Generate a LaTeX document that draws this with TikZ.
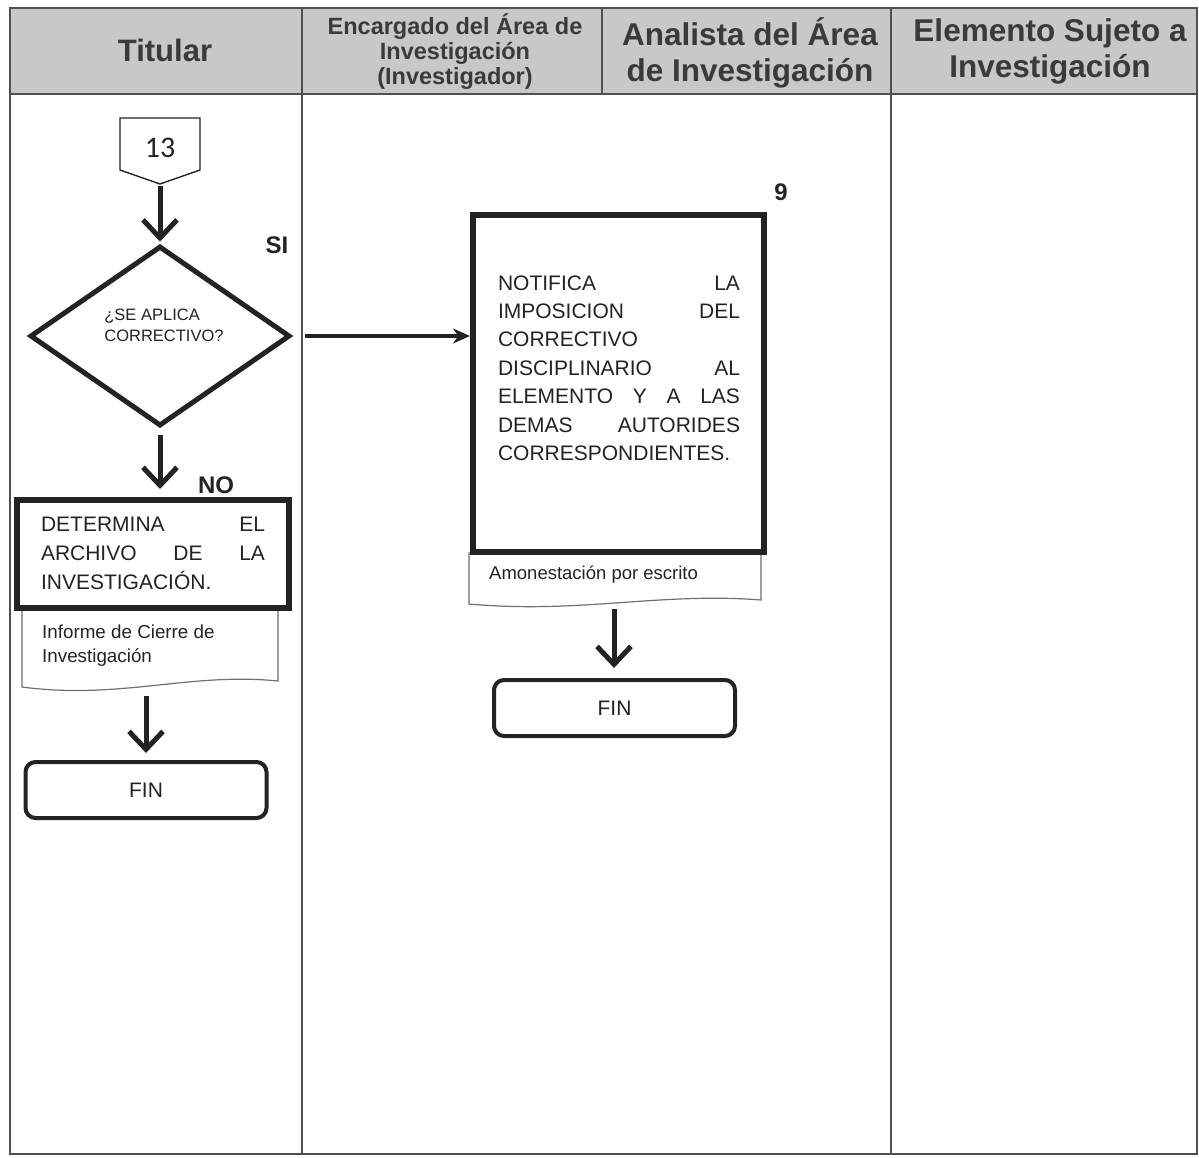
\documentclass[tikz,border=0pt]{standalone}
\usepackage{fontspec}
\setmainfont{Liberation Sans}
\newfontfamily\calib{Carlito}
\usetikzlibrary{arrows.meta,shapes.geometric}
\definecolor{hdr}{RGB}{200,200,200}
\definecolor{ink}{RGB}{35,35,35}
\definecolor{hdrtext}{RGB}{58,58,58}
\definecolor{gridc}{RGB}{80,80,80}
\begin{document}
\begin{tikzpicture}[x=1pt,y=-1pt,
  grid/.style={draw=gridc, line width=1.6pt},
  hdrtxt/.style={text=hdrtext, align=center, inner sep=0},
  procbox/.style={draw=ink, line width=6pt, fill=white, inner sep=0},
  doc/.style={draw=ink!65, line width=1.2pt, fill=white},
  term/.style={draw=ink, line width=4pt, rounded corners=10pt, inner sep=0,
    minimum width=241pt, minimum height=56pt, text=ink, font=\fontsize{21}{25}\selectfont},
  flow/.style={draw=ink, line width=5pt, -{Straight Barb[length=18pt,width=34pt]}},
  siarrow/.style={draw=ink, line width=3.5pt, -{Stealth[length=17pt,width=15pt]}},
  bodytxt/.style={text=ink, inner sep=0},
  lbl/.style={text=ink, inner sep=0, font=\bfseries\fontsize{24}{28}\selectfont}
]
\useasboundingbox (0,0) rectangle (1199,1157);
\fill[white] (0,0) rectangle (1199,1157);

% swimlane table
\fill[hdr] (10,8) rectangle (1197,94);
\draw[grid] (10,8) rectangle (1197,1154);
\draw[draw=gridc, line width=2.6pt] (10,94) -- (1197,94);
\draw[grid] (302,8) -- (302,1154);
\draw[grid] (602,8) -- (602,94);
\draw[grid] (891,8) -- (891,1154);

% header texts
\node[hdrtxt, font=\bfseries\fontsize{31}{36}\selectfont] (h1) at (165,50) {Titular};
\node[hdrtxt, font=\bfseries\fontsize{23.5}{25}\selectfont] (h2) at (455,52) {Encargado del Área de\\Investigación\\(Investigador)};
\node[hdrtxt, font=\bfseries\fontsize{31.5}{36}\selectfont] (h3) at (750,53) {Analista del Área\\de Investigación};
\node[hdrtxt, font=\bfseries\fontsize{31.5}{36}\selectfont] (h4) at (1050,51) {Elemento Sujeto a\\Investigación};

% off-page connector 13
\draw[draw=ink, line width=1.4pt, fill=white] (120,118) -- (200,118) -- (200,170) -- (160,184) -- (120,170) -- cycle;
\node[bodytxt, font=\calib\fontsize{30}{32}\selectfont] (c13) at (160,148) {13};
\coordinate (c13tip) at (160,186);

% decision
\node[diamond, draw=ink, line width=5pt, minimum width=260pt, minimum height=180pt,
      inner sep=0, aspect=1.44, fill=white] (dec) at (160,336) {};
\node[bodytxt, align=left, font=\fontsize{16.5}{21}\selectfont] (dectext) at (164,325) {¿SE APLICA\\CORRECTIVO?};

% labels
\node[lbl] (si) at (277,245) {SI};
\node[lbl] (no) at (216,485) {NO};
\node[lbl, font=\bfseries\fontsize{24}{28}\selectfont] (nine) at (781,192) {9};

% left column: archive box + document + FIN
\draw[doc] (22,610) -- (278,610) -- (278,681) .. controls (190,672) and (120,700) .. (22,687) -- cycle;
\node[procbox, minimum width=272pt, minimum height=108pt] (det) at (153,554) {};
\node[bodytxt, text width=224pt, align=left, font=\fontsize{21}{29}\selectfont] (dettext) at (153,553)
  {DETERMINA\hfill EL\\ARCHIVO\hfill DE\hfill LA\\INVESTIGACIÓN.};
\node[bodytxt, anchor=west, align=left, font=\fontsize{18.8}{24}\selectfont] (inftext) at (42,646)
  {Informe de Cierre de\\Investigación};
\coordinate (infbot) at (146,696);
\node[term] (fin1) at (146,790) {FIN};

% middle column: notification box + document + FIN
\draw[doc] (469,553) -- (761,553) -- (761,600) .. controls (660,592) and (580,614) .. (469,604) -- cycle;
\node[procbox, minimum width=291pt, minimum height=337pt] (noti) at (618.5,383.5) {};
\node[bodytxt, text width=242pt, align=left, font=\fontsize{21}{28.4}\selectfont] (notitext) at (619,368)
  {NOTIFICA\hfill LA\\IMPOSICION\hfill DEL\\CORRECTIVO\\DISCIPLINARIO\hfill AL\\ELEMENTO\hfill Y\hfill A\hfill LAS\\DEMAS\hfill AUTORIDES\\CORRESPONDIENTES.};
\node[bodytxt, anchor=west, font=\fontsize{18.5}{22}\selectfont] (amtext) at (489,575) {Amonestación por escrito};
\coordinate (ambot) at (614,609);
\node[term] (fin2) at (614.5,708) {FIN};

% connectors
\draw[flow, shorten >=2pt] (c13tip) -- (dec.north);
\draw[siarrow, shorten <=12pt] (dec.east) -- (dec.east -| noti.west);
\draw[flow, shorten <=6pt, shorten >=8pt] (dec.south) -- (dec.south |- det.north);
\draw[flow, shorten >=7pt] (infbot) -- (infbot |- fin1.north);
\draw[flow, shorten >=10pt] (ambot) -- (ambot |- fin2.north);
\end{tikzpicture}
\end{document}
